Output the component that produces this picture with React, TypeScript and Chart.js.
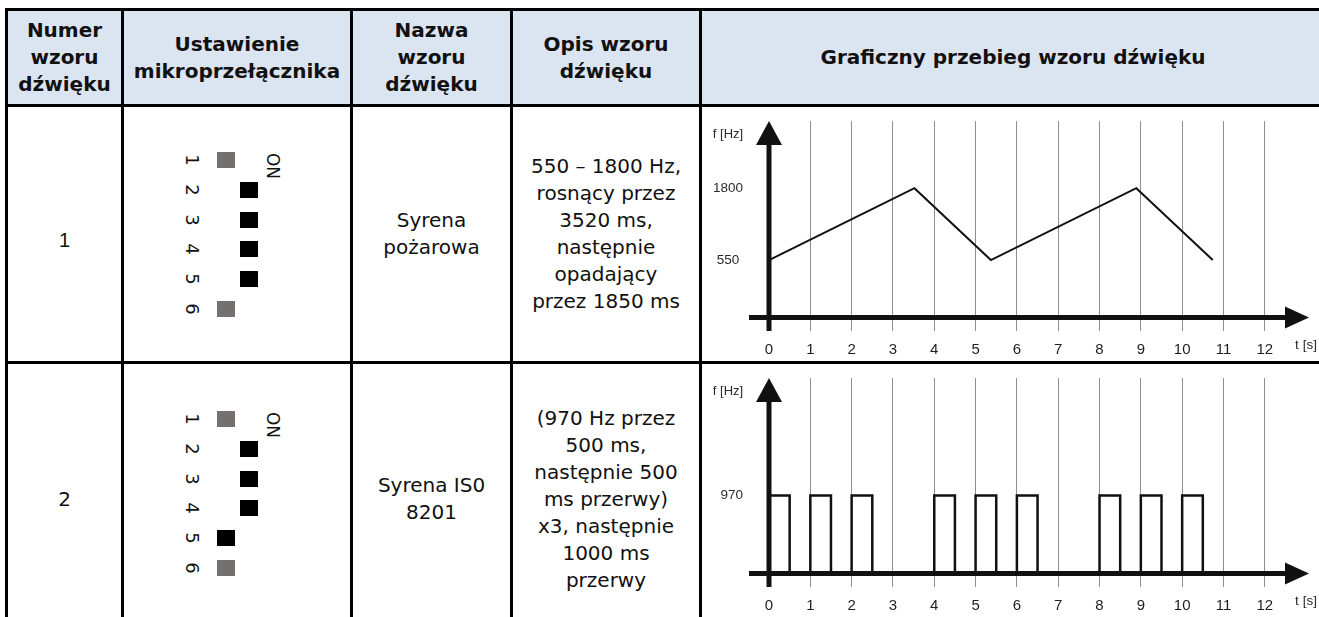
import React, { useEffect, useRef } from "react";
import { Chart, registerables } from "chart.js";

Chart.register(...registerables);

// ---------------- data ----------------
const timeTicks = [0, 1, 2, 3, 4, 5, 6, 7, 8, 9, 10, 11, 12];

// pattern 1: fire siren (550 -> 1800 Hz rising, then falling)
const pattern1Times = [0, 3.52, 5.37, 8.89, 10.74];
const pattern1Freqs = [550, 1800, 550, 1800, 550];
const pattern1FreqTicks = [550, 1800];

// pattern 2: ISO 8201 siren (970 Hz pulses)
const pattern2Times = [0, 0, 0.5, 1, 1.5, 2, 2.5, 4, 4.5, 5, 5.5, 6, 6.5, 8, 8.5, 9, 9.5, 10, 10.5];
const pattern2Freqs = [0, 970, 0, 970, 0, 970, 0, 970, 0, 970, 0, 970, 0, 970, 0, 970, 0, 970, 0];
const pattern2FreqTicks = [970];

const headerTexts = [
  ["Numer", "wzoru", "dźwięku"],
  ["Ustawienie", "mikroprzełącznika"],
  ["Nazwa", "wzoru", "dźwięku"],
  ["Opis wzoru", "dźwięku"],
  ["Graficzny przebieg wzoru dźwięku"],
];
const rowNumbers = ["1", "2"];
const rowNames = [["Syrena", "pożarowa"], ["Syrena IS0", "8201"]];
const rowDescriptions = [
  ["550 – 1800 Hz,", "rosnący przez", "3520 ms,", "następnie", "opadający", "przez 1850 ms"],
  ["(970 Hz przez", "500 ms,", "następnie 500", "ms przerwy)", "x3, następnie", "1000 ms", "przerwy"],
];
// switch states: side L/R, colour g(rey)/b(lack)
const dipRows = [
  ["Lg", "Rb", "Rb", "Rb", "Rb", "Lg"],
  ["Lg", "Rb", "Rb", "Rb", "Lb", "Lg"],
];

// ---------------- styles ----------------
const FONT = "'DejaVu Sans', Verdana, sans-serif";
const CHART_FONT = "'Liberation Sans', Arial, sans-serif";
const HEADER_BG = "#dbe5f1";
const AXIS_COLOR = "#111111";
const GRID_COLOR = "#8e8e8e";

Chart.defaults.font.family = CHART_FONT;

type WaveProps = {
  times: number[];
  freqs: number[];
  freqTicks: number[];
  yMin: number;
  yMax: number;
  baseValue: number;
  stepped: boolean;
  lineWidth: number;
  left: number;
  top: number;
  width: number;
  height: number;
  padTop: number;
};

function WaveChart(p: WaveProps) {
  const ref = useRef<HTMLCanvasElement | null>(null);
  useEffect(() => {
    const canvas = ref.current;
    if (!canvas) return;
    const arrowAxes = {
      id: "arrowAxes",
      afterDatasetsDraw(chart: any) {
        const { ctx, chartArea: a, scales } = chart;
        const x0 = scales.x.getPixelForValue(0);
        const yb = scales.y.getPixelForValue(p.baseValue);
        ctx.save();
        ctx.strokeStyle = AXIS_COLOR;
        ctx.fillStyle = AXIS_COLOR;
        ctx.lineWidth = 5;
        ctx.lineCap = "butt";
        // vertical axis
        ctx.beginPath();
        ctx.moveTo(x0, a.bottom);
        ctx.lineTo(x0, a.top + 20);
        ctx.stroke();
        ctx.beginPath();
        ctx.moveTo(x0, a.top);
        ctx.lineTo(x0 - 13, a.top + 24);
        ctx.lineTo(x0 + 13, a.top + 24);
        ctx.closePath();
        ctx.fill();
        // horizontal axis
        ctx.beginPath();
        ctx.moveTo(a.left, yb);
        ctx.lineTo(a.right - 20, yb);
        ctx.stroke();
        ctx.beginPath();
        ctx.moveTo(a.right, yb);
        ctx.lineTo(a.right - 24, yb - 11);
        ctx.lineTo(a.right - 24, yb + 11);
        ctx.closePath();
        ctx.fill();
        // axis names
        ctx.fillStyle = "#2a2a2a";
        ctx.textAlign = "center";
        ctx.textBaseline = "middle";
        ctx.font = "13px " + CHART_FONT;
        ctx.fillText("f [Hz]", a.left - 21, a.top + 13);
        ctx.font = "13.5px " + CHART_FONT;
        ctx.fillText("t [s]", a.right - 3, yb + 28);
        ctx.restore();
      },
    };
    const chart = new Chart(canvas, {
      type: "line",
      data: {
        datasets: [
          {
            data: p.times.map((t, i) => ({ x: t, y: p.freqs[i] })),
            borderColor: "#111111",
            borderWidth: p.lineWidth,
            pointRadius: 0,
            tension: 0,
            stepped: p.stepped ? "before" : false,
            fill: false,
          } as any,
        ],
      },
      options: {
        responsive: false,
        animation: false,
        events: [],
        layout: { padding: { top: p.padTop, left: 0, right: 10, bottom: 0 } },
        plugins: { legend: { display: false }, tooltip: { enabled: false }, title: { display: false } },
        scales: {
          x: {
            type: "linear",
            min: -0.484,
            max: 13.07,
            bounds: "data",
            afterBuildTicks: (s: any) => {
              s.ticks = timeTicks.map((v) => ({ value: v }));
            },
            afterFit: (s: any) => {
              s.height = 30;
            },
            grid: {
              color: (c: any) => (c.tick && c.tick.value === 0 ? "rgba(0,0,0,0)" : GRID_COLOR),
              lineWidth: 1,
              drawTicks: false,
            },
            border: { display: false },
            ticks: {
              autoSkip: false,
              maxRotation: 0,
              padding: 10,
              color: "#1e1e1e",
              font: { size: 15, family: CHART_FONT },
              callback: (v: any) => String(v),
            },
          },
          y: {
            type: "linear",
            min: p.yMin,
            max: p.yMax,
            bounds: "data",
            afterBuildTicks: (s: any) => {
              s.ticks = p.freqTicks.map((v) => ({ value: v }));
            },
            afterFit: (s: any) => {
              s.width = 47;
            },
            grid: { display: false, drawTicks: false },
            border: { display: false },
            ticks: {
              crossAlign: "center",
              padding: 6,
              color: "#2a2a2a",
              font: { size: 13.5, family: CHART_FONT },
              callback: (v: any) => String(v),
            },
          },
        },
      } as any,
      plugins: [arrowAxes],
    });
    return () => chart.destroy();
  }, []);
  return (
    <canvas
      ref={ref}
      width={p.width}
      height={p.height}
      style={{ position: "absolute", left: p.left, top: p.top, width: p.width, height: p.height, display: "block" }}
    />
  );
}

function Cell(props: { x: number; y: number; w: number; h: number; lines: string[]; bold?: boolean; font?: string; dy?: number }) {
  return (
    <div
      style={{
        position: "absolute",
        left: props.x,
        top: props.y + (props.dy || 0),
        width: props.w,
        height: props.h,
        display: "flex",
        flexDirection: "column",
        alignItems: "center",
        justifyContent: "center",
        textAlign: "center",
        fontFamily: props.font || FONT,
        fontWeight: props.bold ? 700 : 400,
        fontSize: 20,
        lineHeight: "27px",
        color: "#111",
        whiteSpace: "nowrap",
      }}
    >
      {props.lines.map((l, i) => (
        <div key={i}>{l}</div>
      ))}
    </div>
  );
}

function Dip(props: { states: string[]; baseY: number }) {
  const items: any[] = [];
  props.states.forEach((s, i) => {
    const cy = props.baseY + i * 29.8;
    items.push(
      <div
        key={"d" + i}
        style={{
          position: "absolute",
          left: 191.5 - 12,
          top: cy - 12,
          width: 24,
          height: 24,
          lineHeight: "24px",
          textAlign: "center",
          fontFamily: FONT,
          fontWeight: 400,
          fontSize: 18,
          color: "#111",
          transform: "rotate(90deg)",
        }}
      >
        {String(i + 1)}
      </div>
    );
    items.push(
      <div
        key={"s" + i}
        style={{
          position: "absolute",
          left: s[0] === "L" ? 217 : 240,
          top: cy - 8,
          width: 18,
          height: 16,
          background: s[1] === "g" ? "#757070" : "#000",
        }}
      />
    );
  });
  items.push(
    <div
      key="on"
      style={{
        position: "absolute",
        left: 272.5 - 20,
        top: props.baseY + 5.5 - 11,
        width: 40,
        height: 22,
        lineHeight: "22px",
        textAlign: "center",
        fontFamily: FONT,
        fontWeight: 400,
        fontSize: 17,
        color: "#111",
        transform: "rotate(90deg)",
      }}
    >
      ON
    </div>
  );
  return <>{items}</>;
}

const colX = [8, 124, 353, 513, 702];
const colW = [113, 226, 157, 186, 622];
const vLines = [5, 121, 350, 510, 699];
const hLines = [8, 104, 361];

export default function App() {
  return (
    <div
      style={{
        position: "absolute",
        left: 0,
        top: 0,
        width: 1319,
        height: 617,
        overflow: "hidden",
        background: "#fff",
      }}
    >
      <div style={{ position: "absolute", left: 5, top: 8, width: 1330, height: 98, background: HEADER_BG }} />
      {headerTexts.map((lines, i) => (
        <Cell key={"h" + i} x={colX[i]} y={11} w={colW[i]} h={93} lines={lines} bold />
      ))}
      {/* row 1 */}
      <Cell x={colX[0]} y={107} w={colW[0]} h={254} lines={[rowNumbers[0]]} font={CHART_FONT} dy={6} />
      <Dip states={dipRows[0]} baseY={160} />
      <Cell x={colX[2]} y={107} w={colW[2]} h={254} lines={rowNames[0]} />
      <Cell x={colX[3]} y={107} w={colW[3]} h={254} lines={rowDescriptions[0]} />
      <WaveChart
        times={pattern1Times}
        freqs={pattern1Freqs}
        freqTicks={pattern1FreqTicks}
        yMin={-683}
        yMax={2967}
        baseValue={-450}
        stepped={false}
        lineWidth={2}
        left={702}
        top={107}
        width={617}
        height={254}
        padTop={5}
      />
      {/* row 2 */}
      <Cell x={colX[0]} y={364} w={colW[0]} h={270} lines={[rowNumbers[1]]} />
      <Dip states={dipRows[1]} baseY={419} />
      <Cell x={colX[2]} y={364} w={colW[2]} h={270} lines={rowNames[1]} />
      <Cell x={colX[3]} y={364} w={colW[3]} h={270} lines={rowDescriptions[1]} />
      <WaveChart
        times={pattern2Times}
        freqs={pattern2Freqs}
        freqTicks={pattern2FreqTicks}
        yMin={-166}
        yMax={2425}
        baseValue={0}
        stepped={true}
        lineWidth={2.5}
        left={702}
        top={364}
        width={617}
        height={253}
        padTop={4}
      />
      {/* borders */}
      {hLines.map((y, i) => (
        <div key={"hl" + i} style={{ position: "absolute", left: 5, top: y, width: 1330, height: 3, background: "#000" }} />
      ))}
      {vLines.map((x, i) => (
        <div key={"vl" + i} style={{ position: "absolute", left: x, top: 8, width: 3, height: 640, background: "#000" }} />
      ))}
    </div>
  );
}
